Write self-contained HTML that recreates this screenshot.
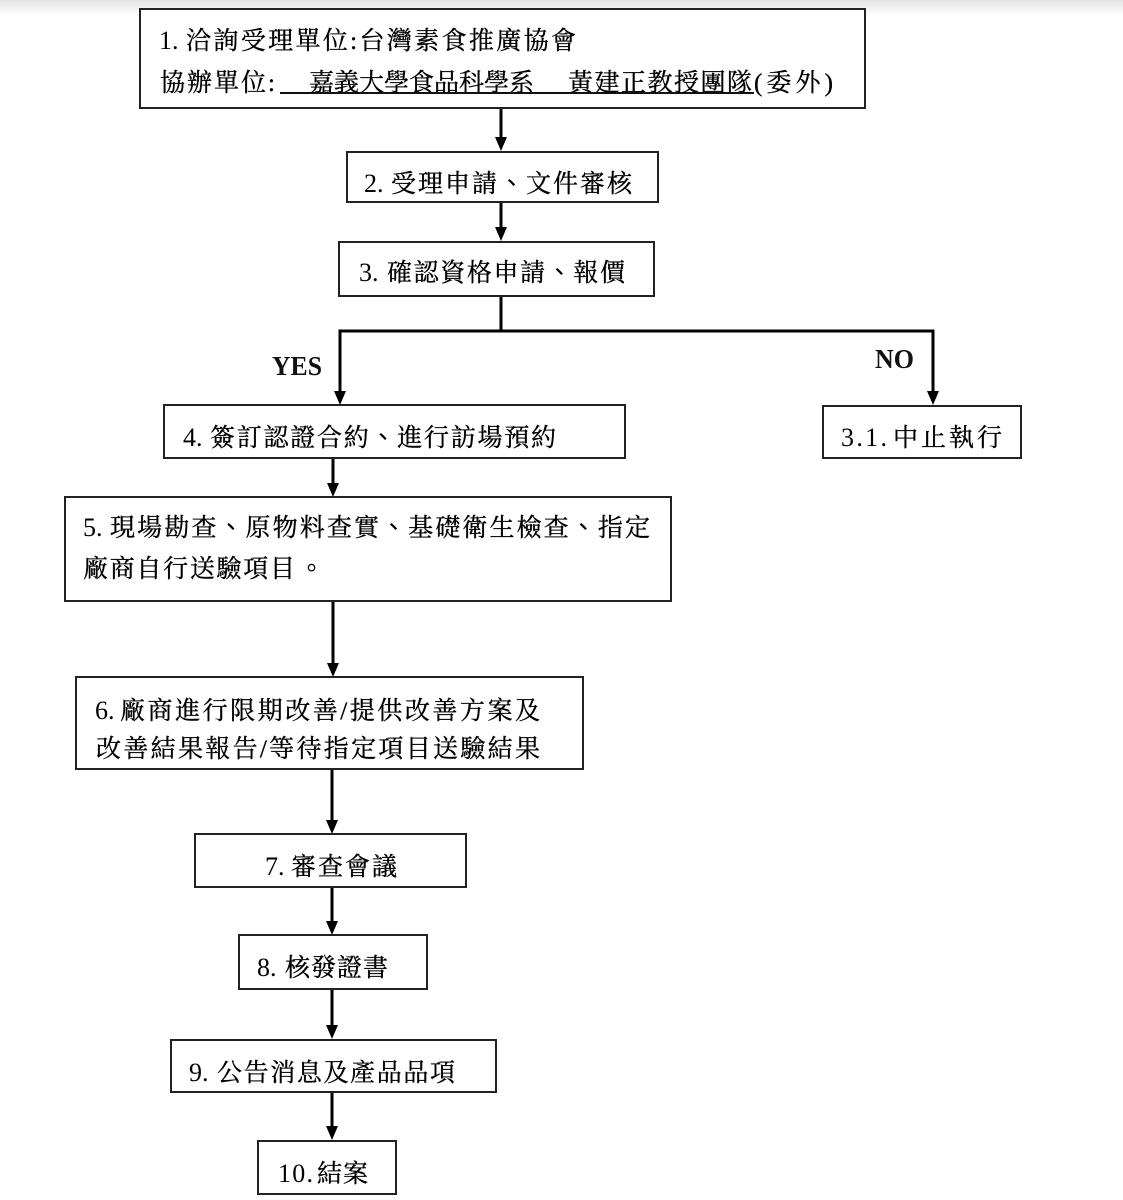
<!DOCTYPE html>
<html>
<head>
<meta charset="utf-8">
<style>
  html, body { margin: 0; padding: 0; background: #fff; }
  body { width: 1123px; height: 1200px; overflow: hidden; position: relative; }
  .band { position: absolute; left: 0; top: 0; width: 1123px; height: 16px;
          background: linear-gradient(#e4e4e4 0px, #ececec 5px, #ffffff 15px); }
  svg { position: absolute; left: 0; top: 0; }
  .cjk { font-family: "Liberation Serif", "Noto Serif CJK SC", "Noto Serif CJK TC", serif; font-size: 25px; fill: #000; stroke: #000; stroke-width: 0.35px; }
  .num { font-family: "Liberation Serif", serif; font-size: 26px; fill: #000; }
  .tc { font-family: "Noto Sans CJK TC", sans-serif; stroke-width: 0; }
  .lbl { font-family: "Liberation Serif", serif; font-weight: bold; font-size: 27px; fill: #111; }
  .box { fill: #fff; stroke: #222; stroke-width: 2; }
  .ln { stroke: #000; stroke-width: 3; fill: none; }
  .ah { fill: #000; }
</style>
</head>
<body>
<div class="band"></div>
<svg width="1123" height="1200" viewBox="0 0 1123 1200" xmlns="http://www.w3.org/2000/svg">
  <!-- connectors -->
  <line class="ln" x1="501" y1="108" x2="501" y2="140"/>
  <polygon class="ah" points="495,137 507,137 501,151"/>
  <line class="ln" x1="501" y1="202" x2="501" y2="230"/>
  <polygon class="ah" points="495,227 507,227 501,241"/>
  <polyline class="ln" points="501,296 501,331"/>
  <polyline class="ln" points="340,394 340,331 933,331 933,394"/>
  <polygon class="ah" points="334,391 346,391 340,405"/>
  <polygon class="ah" points="927,391 939,391 933,405"/>
  <line class="ln" x1="333" y1="458" x2="333" y2="486"/>
  <polygon class="ah" points="327,483 339,483 333,497"/>
  <line class="ln" x1="333" y1="601" x2="333" y2="666"/>
  <polygon class="ah" points="327,663 339,663 333,677"/>
  <line class="ln" x1="332" y1="769" x2="332" y2="823"/>
  <polygon class="ah" points="326,820 338,820 332,834"/>
  <line class="ln" x1="332" y1="887" x2="332" y2="924"/>
  <polygon class="ah" points="326,921 338,921 332,935"/>
  <line class="ln" x1="332" y1="989" x2="332" y2="1028"/>
  <polygon class="ah" points="326,1025 338,1025 332,1039"/>
  <line class="ln" x1="332" y1="1092" x2="332" y2="1129"/>
  <polygon class="ah" points="326,1126 338,1126 332,1140"/>

  <!-- boxes -->
  <rect class="box" x="140" y="9" width="725" height="99"/>
  <rect class="box" x="347" y="152" width="311" height="50"/>
  <rect class="box" x="339" y="242" width="315" height="54"/>
  <rect class="box" x="164" y="405" width="461" height="53"/>
  <rect class="box" x="823" y="406" width="198" height="52"/>
  <rect class="box" x="65" y="497" width="606" height="104"/>
  <rect class="box" x="76" y="677" width="507" height="92"/>
  <rect class="box" x="195" y="834" width="271" height="53"/>
  <rect class="box" x="239" y="935" width="188" height="54"/>
  <rect class="box" x="171" y="1040" width="325" height="52"/>
  <rect class="box" x="258" y="1141" width="138" height="53"/>

  <!-- labels -->
  <text class="lbl" x="272" y="375" textLength="50" lengthAdjust="spacingAndGlyphs">YES</text>
  <text class="lbl" x="875" y="368" textLength="39" lengthAdjust="spacingAndGlyphs">NO</text>

  <!-- box 1 -->
  <text class="num" x="159" y="49">1.</text>
  <text class="cjk" x="186" y="49" textLength="390" lengthAdjust="spacing">洽詢受理單位:台灣素食推廣協會</text>
  <text class="cjk" x="160" y="91" textLength="115" lengthAdjust="spacing">協辦單位:</text>
  <text class="cjk" x="309" y="91" textLength="225" lengthAdjust="spacing">嘉義大學食品科學系</text>
  <text class="cjk" x="568" y="91" textLength="184" lengthAdjust="spacing">黃建正教授團隊</text>
  <text class="cjk" x="754" y="91" textLength="79" lengthAdjust="spacing">(委外)</text>
  <line x1="280" y1="93" x2="754" y2="93" stroke="#111" stroke-width="2"/>

  <!-- box 2 -->
  <text class="num" x="364" y="192">2.</text>
  <text class="cjk" x="391" y="192" textLength="241" lengthAdjust="spacing">受理申請<tspan class="tc">、</tspan>文件審核</text>

  <!-- box 3 -->
  <text class="num" x="359" y="281">3.</text>
  <text class="cjk" x="387" y="281" textLength="238" lengthAdjust="spacing">確認資格申請<tspan class="tc">、</tspan>報價</text>

  <!-- box 4 -->
  <text class="num" x="183" y="446">4.</text>
  <text class="cjk" x="210" y="446" textLength="346" lengthAdjust="spacing">簽訂認證合約<tspan class="tc">、</tspan>進行訪場預約</text>

  <!-- box 3.1 -->
  <text class="num" x="841" y="446" textLength="46" lengthAdjust="spacing">3.1.</text>
  <text class="cjk" x="893" y="446" textLength="109" lengthAdjust="spacing">中止執行</text>

  <!-- box 5 -->
  <text class="num" x="83" y="536">5.</text>
  <text class="cjk" x="110" y="536" textLength="540" lengthAdjust="spacing">現場勘查<tspan class="tc">、</tspan>原物料查實<tspan class="tc">、</tspan>基礎衛生檢查<tspan class="tc">、</tspan>指定</text>
  <text class="cjk" x="83" y="577" textLength="212" lengthAdjust="spacing">廠商自行送驗項目</text>
  <text class="cjk tc" x="299" y="577">。</text>

  <!-- box 6 -->
  <text class="num" x="95" y="719">6.</text>
  <text class="cjk" x="120" y="719" textLength="420" lengthAdjust="spacing">廠商進行限期改善/提供改善方案及</text>
  <text class="cjk" x="96" y="757" textLength="444" lengthAdjust="spacing">改善結果報告/等待指定項目送驗結果</text>

  <!-- box 7 -->
  <text class="num" x="265" y="875">7.</text>
  <text class="cjk" x="291" y="875" textLength="106" lengthAdjust="spacing">審查會議</text>

  <!-- box 8 -->
  <text class="num" x="257" y="976">8.</text>
  <text class="cjk" x="285" y="976" textLength="103" lengthAdjust="spacing">核發證書</text>

  <!-- box 9 -->
  <text class="num" x="189" y="1081">9.</text>
  <text class="cjk" x="217" y="1081" textLength="238" lengthAdjust="spacing">公告消息及產品品項</text>

  <!-- box 10 -->
  <text class="num" x="278" y="1182" textLength="35" lengthAdjust="spacing">10.</text>
  <text class="cjk" x="317" y="1182" textLength="51" lengthAdjust="spacing">結案</text>
</svg>
</body>
</html>
